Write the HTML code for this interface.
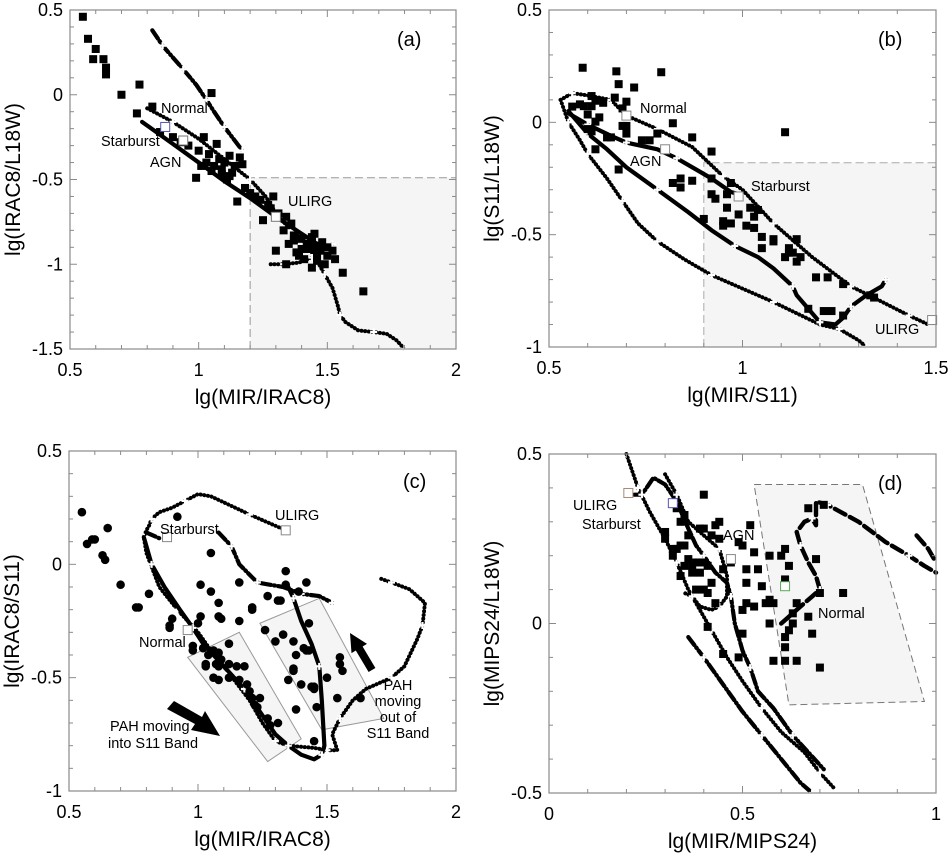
<!DOCTYPE html>
<html><head><meta charset="utf-8"><style>
html,body{margin:0;padding:0;background:#fff}
svg{display:block;font-family:"Liberation Sans",Arial,sans-serif}
</style></head><body>
<svg id="fig" width="949" height="853" viewBox="0 0 949 853" xmlns="http://www.w3.org/2000/svg"></svg>
<script>
// ===== Panel (a) data =====
const aSquaresX=[0.55,0.57,0.60,0.59,0.63,0.64,0.64,0.77,0.70,0.76,0.82,1.05,0.99,1.15,1.25,1.29,1.28,0.85,0.90,0.93,0.96,1.0,1.02,1.04,1.07,1.08,1.10,1.12,1.14,1.16,1.05,1.09,1.11,1.13,1.18,1.20,1.22,1.24,1.27,1.31,1.34,1.36,1.33,1.37,1.40,1.42,1.44,1.45,1.47,1.48,1.50,1.52,1.38,1.41,1.43,1.46,1.49,1.56,1.64,1.30,1.35,1.39,1.45,1.53,1.34,1.44,1.46,1.06,1.09,1.12,1.01,1.03,1.17,1.42,1.44,1.47,1.40,1.37,1.46,1.50];
const aSquaresY=[0.46,0.33,0.27,0.21,0.21,0.16,0.12,0.06,0.00,-0.11,-0.07,0.01,-0.49,-0.63,-0.74,-0.60,-0.67,-0.22,-0.25,-0.28,-0.30,-0.33,-0.25,-0.35,-0.29,-0.38,-0.40,-0.36,-0.42,-0.37,-0.45,-0.47,-0.50,-0.46,-0.55,-0.58,-0.60,-0.62,-0.65,-0.70,-0.72,-0.76,-0.80,-0.83,-0.85,-0.88,-0.84,-0.90,-0.92,-0.87,-0.95,-0.92,-0.93,-0.97,-0.90,-0.98,-1.00,-1.05,-1.16,-0.92,-0.88,-0.95,-0.82,-0.97,-1.00,-1.02,-0.93,-0.42,-0.44,-0.48,-0.42,-0.40,-0.41,-0.91,-0.86,-0.89,-0.91,-0.86,-0.96,-0.90];
const aNormalX=[0.82,0.86,0.90,0.94,0.99,1.03,1.06,1.10,1.14,1.17];
const aNormalY=[0.38,0.29,0.22,0.15,0.06,-0.03,-0.10,-0.19,-0.27,-0.33];
const aUlirgX=[0.80,0.90,1.00,1.10,1.20,1.26,1.30,1.36,1.42,1.46,1.49,1.52,1.54,1.55,1.57,1.62,1.68,1.73,1.77,1.80];
const aUlirgY=[-0.08,-0.16,-0.26,-0.38,-0.50,-0.60,-0.70,-0.80,-0.88,-0.98,-1.06,-1.14,-1.24,-1.30,-1.34,-1.39,-1.40,-1.41,-1.45,-1.50];
const aBranchX=[1.28,1.33,1.39,1.44,1.48,1.52];
const aBranchY=[-1.00,-1.00,-0.99,-0.96,-0.92,-0.88];
const aAgnX=[0.78,0.90,1.00,1.10,1.20,1.30,1.40,1.48];
const aAgnY=[-0.16,-0.29,-0.40,-0.51,-0.61,-0.72,-0.82,-0.90];

// ===== Panel (b) data =====
const bSquaresX=[0.587,0.674,0.79,0.68,0.72,0.61,0.62,0.64,0.67,0.70,0.56,0.58,0.59,0.61,0.69,0.60,0.63,0.62,0.69,0.70,0.82,1.11,0.60,0.61,0.65,0.66,0.70,0.74,0.76,0.78,0.87,0.62,0.92,0.68,0.82,0.84,0.84,0.87,0.92,0.92,0.93,0.97,0.96,0.96,0.99,0.95,0.95,0.97,0.90,1.02,1.04,1.03,1.01,1.03,1.05,1.05,1.08,1.08,1.14,1.12,1.12,1.13,1.11,1.15,1.14,1.19,1.22,1.26,1.17,1.21,1.23,1.26,1.33,1.34];
const bSquaresY=[0.243,0.227,0.223,0.17,0.155,0.117,0.096,0.087,0.11,0.092,0.07,0.08,0.072,0.072,0.062,0.035,0.022,0.003,-0.016,-0.016,-0.004,-0.044,-0.03,-0.04,-0.067,-0.067,-0.05,-0.08,-0.08,-0.05,-0.067,-0.12,-0.13,-0.21,-0.27,-0.29,-0.25,-0.26,-0.25,-0.32,-0.34,-0.27,-0.32,-0.38,-0.41,-0.44,-0.46,-0.45,-0.43,-0.38,-0.39,-0.42,-0.46,-0.47,-0.51,-0.56,-0.52,-0.53,-0.52,-0.58,-0.56,-0.58,-0.60,-0.60,-0.62,-0.69,-0.69,-0.72,-0.83,-0.84,-0.84,-0.86,-0.77,-0.78];
const bUpperX=[0.53,0.56,0.60,0.66,0.70,0.78,0.87,0.95,1.00,1.08,1.18,1.28,1.35,1.43,1.48];
const bUpperY=[0.10,0.13,0.12,0.10,0.03,-0.03,-0.11,-0.24,-0.30,-0.45,-0.60,-0.73,-0.79,-0.86,-0.90];
const bLowerX=[0.53,0.55,0.58,0.60,0.65,0.69,0.73,0.78,0.85,0.92,1.00,1.08,1.20,1.25,1.30,1.32];
const bLowerY=[0.10,0.00,-0.08,-0.14,-0.25,-0.35,-0.45,-0.53,-0.61,-0.68,-0.74,-0.80,-0.90,-0.92,-0.97,-1.00];
const bSolidX=[0.55,0.60,0.65,0.70,0.78,0.86,0.92,0.98,1.04,1.08,1.13,1.14,1.17,1.20,1.24,1.26,1.28,1.32,1.36,1.37];
const bSolidY=[0.05,-0.05,-0.12,-0.20,-0.30,-0.40,-0.48,-0.55,-0.60,-0.65,-0.73,-0.77,-0.83,-0.89,-0.90,-0.87,-0.82,-0.77,-0.73,-0.70];
const bAgnX=[0.55,0.60,0.66,0.70,0.78,0.83,0.88,0.92,0.97,0.99];
const bAgnY=[0.04,-0.01,-0.06,-0.09,-0.12,-0.16,-0.21,-0.25,-0.31,-0.32];

// ===== Panel (c) data =====
const cCirclesX=[0.55,0.57,0.59,0.60,0.65,0.63,0.64,0.70,0.76,0.77,0.81,0.92,0.90,0.89,0.89,1.05,1.01,1.05,1.08,1.01,1.00,1.08,1.09,1.16,1.16,1.21,1.21,1.27,1.32,1.34,1.34,1.42,1.39,0.98,1.02,0.98,1.04,1.06,1.08,1.09,1.12,1.03,1.03,1.07,1.08,1.12,1.15,1.18,1.06,1.08,1.12,1.16,1.19,1.20,1.21,1.24,1.22,1.23,1.28,1.31,1.27,1.26,1.30,1.33,1.37,1.38,1.37,1.37,1.35,1.40,1.38,1.41,1.42,1.43,1.43,1.44,1.45,1.45,1.46,1.50,1.54,1.55,1.55,1.56,1.63,1.45,1.31];
const cCirclesY=[0.23,0.09,0.11,0.11,0.16,0.04,0.02,-0.09,-0.19,-0.19,-0.13,0.21,-0.24,-0.27,-0.28,0.05,-0.09,-0.12,-0.17,-0.23,-0.26,-0.23,-0.24,-0.08,-0.25,-0.19,-0.20,-0.14,-0.16,-0.09,-0.03,-0.08,-0.12,-0.36,-0.37,-0.38,-0.40,-0.38,-0.39,-0.42,-0.35,-0.44,-0.45,-0.44,-0.45,-0.44,-0.45,-0.45,-0.50,-0.51,-0.50,-0.51,-0.53,-0.56,-0.59,-0.59,-0.62,-0.63,-0.71,-0.70,-0.68,-0.29,-0.34,-0.31,-0.34,-0.40,-0.46,-0.47,-0.51,-0.53,-0.64,-0.37,-0.38,-0.38,-0.26,-0.54,-0.54,-0.55,-0.63,-0.50,-0.59,-0.41,-0.44,-0.47,-0.59,-0.78,-0.16];
const cDottedX=[1.34,1.20,1.05,1.00,0.95,0.90,0.85,0.82,0.81,0.80,0.79,0.80,0.85,0.92,1.00,1.05,1.12,1.20,1.25,1.30,1.35,1.45,1.50,1.54,1.52,1.55,1.60,1.65,1.75,1.80,1.85,1.87,1.88,1.82,1.75,1.70];
const cDottedY=[0.15,0.22,0.30,0.31,0.28,0.25,0.23,0.20,0.17,0.15,0.12,0.05,-0.10,-0.20,-0.30,-0.38,-0.48,-0.60,-0.70,-0.78,-0.80,-0.81,-0.82,-0.82,-0.75,-0.68,-0.60,-0.55,-0.50,-0.45,-0.33,-0.27,-0.17,-0.11,-0.08,-0.06];
const cSolidX=[0.79,0.82,0.87,0.93,0.98,1.02,1.10,1.18,1.24,1.30,1.35,1.40,1.45,1.48,1.49,1.48,1.47,1.44,1.40,1.37,1.35];
const cSolidY=[0.12,0.00,-0.10,-0.20,-0.28,-0.35,-0.45,-0.55,-0.65,-0.75,-0.80,-0.84,-0.86,-0.84,-0.80,-0.60,-0.45,-0.35,-0.25,-0.15,-0.10];
const cDashX=[1.08,1.13,1.16,1.23,1.33,1.40,1.47,1.52];
const cDashY=[0.14,0.08,0.00,-0.08,-0.10,-0.13,-0.14,-0.17];
const cStarX=[0.80,0.84,0.86];
const cStarY=[0.14,0.12,0.11];

// ===== Panel (d) data =====
const dSquaresX=[0.40,0.33,0.35,0.34,0.44,0.43,0.52,0.30,0.36,0.39,0.40,0.42,0.44,0.30,0.32,0.33,0.34,0.35,0.32,0.36,0.38,0.40,0.41,0.37,0.35,0.34,0.37,0.39,0.45,0.47,0.49,0.50,0.53,0.51,0.54,0.57,0.60,0.61,0.62,0.61,0.51,0.55,0.38,0.40,0.42,0.41,0.43,0.51,0.50,0.53,0.57,0.56,0.58,0.64,0.63,0.67,0.63,0.57,0.62,0.68,0.61,0.61,0.41,0.50,0.45,0.49,0.58,0.61,0.64,0.70,0.70,0.76,0.69,0.67,0.71];
const dSquaresY=[0.38,0.34,0.32,0.30,0.30,0.29,0.29,0.27,0.26,0.28,0.28,0.26,0.25,0.25,0.22,0.22,0.23,0.23,0.20,0.19,0.18,0.18,0.17,0.17,0.17,0.14,0.15,0.15,0.16,0.18,0.24,0.23,0.21,0.16,0.16,0.20,0.20,0.22,0.17,0.13,0.12,0.11,0.10,0.10,0.12,0.09,0.06,0.06,0.04,0.05,0.07,0.06,0.06,0.06,0.03,0.02,0.00,0.00,-0.02,-0.03,-0.04,-0.07,-0.01,-0.03,-0.09,-0.10,-0.11,-0.11,-0.11,-0.13,0.09,0.09,0.19,0.34,0.35];
const dUlirgX=[0.20,0.23,0.26,0.30,0.33,0.36,0.39,0.42,0.46,0.50,0.55,0.60,0.66,0.70,0.74];
const dUlirgY=[0.50,0.40,0.33,0.25,0.18,0.10,0.04,-0.02,-0.10,-0.17,-0.25,-0.32,-0.38,-0.44,-0.49];
const dStarX=[0.22,0.24,0.27,0.30,0.33,0.36,0.38,0.40,0.43,0.46,0.47,0.48,0.50,0.52,0.54,0.58,0.63,0.67,0.71];
const dStarY=[0.38,0.38,0.43,0.41,0.36,0.28,0.23,0.20,0.15,0.12,0.08,0.00,-0.08,-0.13,-0.20,-0.25,-0.33,-0.38,-0.43];
const dAgnX=[0.30,0.33,0.36,0.40,0.44,0.46,0.46,0.44,0.42,0.39,0.37,0.35];
const dAgnY=[0.44,0.38,0.30,0.26,0.22,0.14,0.08,0.05,0.04,0.05,0.08,0.09];
const dLowX=[0.36,0.40,0.45,0.50,0.55,0.60,0.65,0.68];
const dLowY=[-0.04,-0.10,-0.18,-0.26,-0.33,-0.40,-0.47,-0.50];
const dNormalX=[0.60,0.63,0.65,0.68,0.70,0.69,0.67,0.65,0.64,0.66,0.68,0.69,0.69,0.72,0.80,0.87,0.93,0.97,1.00];
const dNormalY=[0.00,0.03,0.05,0.08,0.10,0.14,0.18,0.23,0.27,0.30,0.31,0.29,0.36,0.35,0.30,0.24,0.20,0.17,0.15];
const dNormal2X=[0.95,0.98,1.00];
const dNormal2Y=[0.26,0.22,0.18];

const NS="http://www.w3.org/2000/svg";
const svg=document.getElementById('fig');
function mk(tag,attrs,parent){const e=document.createElementNS(NS,tag);for(const k in attrs)e.setAttribute(k,attrs[k]);(parent||svg).appendChild(e);return e;}

function panel(name,L,R,T,B,x0,x1,y0,y1){
  const g=mk('g',{});
  
  
  return {g,sx:v=>L+(v-x0)/(x1-x0)*(R-L),sy:v=>B-(v-y0)/(y1-y0)*(B-T),L,R,T,B,x0,x1,y0,y1};
}
function axes(p,xt,yt,xMinor,yMinor,xTitle,yTitle,tagText,tagX,tagY){
  const ag=mk('g',{},p.g);
  
  
  mk('rect',{x:p.L,y:p.T,width:p.R-p.L,height:p.B-p.T,fill:'none',stroke:'#8a8a8a','stroke-width':1.2},ag);
  for(let v=p.x0;v<=p.x1+1e-9;v+=xMinor){const X=p.sx(v);const maj=xt.some(t=>Math.abs(t-v)<1e-6);const l=maj?7:4;
    mk('line',{x1:X,x2:X,y1:p.B,y2:p.B-l,stroke:'#8a8a8a'},ag);mk('line',{x1:X,x2:X,y1:p.T,y2:p.T+l,stroke:'#8a8a8a'},ag);}
  for(let v=p.y0;v<=p.y1+1e-9;v+=yMinor){const Y=p.sy(v);const maj=yt.some(t=>Math.abs(t-v)<1e-6);const l=maj?7:4;
    mk('line',{x1:p.L,x2:p.L+l,y1:Y,y2:Y,stroke:'#8a8a8a'},ag);mk('line',{x1:p.R,x2:p.R-l,y1:Y,y2:Y,stroke:'#8a8a8a'},ag);}
  xt.forEach(v=>{const t=mk('text',{x:p.sx(v),y:p.B+27,'text-anchor':'middle','font-size':18},ag);t.textContent=String(v);
    
    });
  yt.forEach(v=>{const t=mk('text',{x:p.L-7,y:p.sy(v)+6,'text-anchor':'end','font-size':18},ag);t.textContent=String(v);
    
    });
  const xtl=mk('text',{x:(p.L+p.R)/2,y:p.B+55,'text-anchor':'middle','font-size':21},ag);xtl.textContent=xTitle;
  
  
  const cy=(p.T+p.B)/2,cx=p.L-50;
  const ytl=mk('text',{x:cx,y:cy,'text-anchor':'middle','font-size':21,transform:`rotate(-90 ${cx} ${cy})`},ag);ytl.textContent=yTitle;
  
  
  const tg=mk('text',{x:tagX,y:tagY,'font-size':20},ag);tg.textContent=tagText;
  
  
}
function shade(p,xs,ys,dashed){
  const pts=xs.map((x,i)=>p.sx(x)+','+p.sy(ys[i])).join(' ');
  const e=mk('polygon',{points:pts,fill:'#f5f5f5',stroke:dashed?'#777':'none','stroke-dasharray':dashed?'7 4':'none','stroke-width':1},p.g);
  
  
  return e;
}
const STY={dot:{w:4,d:'0.1 3.6'},dash:{w:4.2,d:'10 3 1 3'},solid:{w:4.2,d:'none'},dash2:{w:4.4,d:'12 5'}};
function curve(p,xs,ys,style,name,cross){
  const d=xs.map((x,i)=>(i?'L':'M')+p.sx(x).toFixed(1)+' '+p.sy(ys[i]).toFixed(1)).join(' ');
  const s=STY[style];
  const e=mk('path',{d:d,fill:'none',stroke:'#000','stroke-width':s.w,'stroke-dasharray':s.d,'stroke-linecap':'round','stroke-linejoin':'round'},p.g);
  
  
  if(cross){for(let i=1;i<xs.length;i+=cross){plus(p,xs[i],ys[i]);}}
}
function plus(p,x,y){
  const X=p.sx(x),Y=p.sy(y);
  const e=mk('path',{d:`M${X-3.5} ${Y}H${X+3.5}M${X} ${Y-3.5}V${Y+3.5}`,stroke:'#fff','stroke-width':2.2},p.g);
  
  
}
function squares(p,xs,ys,name){
  xs.forEach((x,i)=>{const e=mk('rect',{x:p.sx(x)-4,y:p.sy(ys[i])-4,width:8,height:8,fill:'#000'},p.g);
    
    });
}
function circles(p,xs,ys,name){
  xs.forEach((x,i)=>{const e=mk('circle',{cx:p.sx(x),cy:p.sy(ys[i]),r:4.3,fill:'#000'},p.g);
    
    });
}
function openSq(p,x,y,col){
  const e=mk('rect',{x:p.sx(x)-4.5,y:p.sy(y)-4.5,width:9,height:9,fill:'#fff',stroke:col||'#888','stroke-width':1},p.g);
  
  
}
function label(p,x,y,txt,name,size){
  const e=mk('text',{x:x,y:y,'font-size':size||14.5},p.g);e.textContent=txt;
  
  
  return e;
}

// ---- Panel a ----
const pa=panel('panel-a',70,456,10,349,0.5,2,-1.5,0.5);
shade(pa,[1.2,2,2,1.2],[-0.49,-0.49,-1.5,-1.5],false);
mk('path',{d:`M${pa.sx(1.2)} ${pa.sy(-1.5)}V${pa.sy(-0.49)}H${pa.R}`,fill:'none',stroke:'#999','stroke-dasharray':'8 4'},pa.g);
curve(pa,aNormalX,aNormalY,'dash','normal-curve',2);
curve(pa,aUlirgX,aUlirgY,'dot','ulirg-curve',3);
curve(pa,aBranchX,aBranchY,'dot','ulirg-branch',2);
curve(pa,aAgnX,aAgnY,'solid','agn-curve',0);
squares(pa,aSquaresX,aSquaresY,'galaxy-point');
openSq(pa,0.87,-0.19,'#55a');openSq(pa,0.94,-0.27,'#777');openSq(pa,1.30,-0.72,'#777');
axes(pa,[0.5,1,1.5,2],[-1.5,-1,-0.5,0,0.5],0.1,0.1,'lg(MIR/IRAC8)','lg(IRAC8/L18W)','(a)',397,46);
label(pa,161,113,'Normal','normal-label');
label(pa,101,146,'Starburst','starburst-label');
label(pa,150,167,'AGN','agn-label');
label(pa,288,206,'ULIRG','ulirg-label');

// ---- Panel b ----
const pb=panel('panel-b',549,936,10,347,0.5,1.5,-1,0.5);
shade(pb,[0.9,1.5,1.5,0.9],[-0.18,-0.18,-1,-1],false);
mk('path',{d:`M${pb.sx(0.9)} ${pb.sy(-1)}V${pb.sy(-0.18)}H${pb.R}`,fill:'none',stroke:'#aaa','stroke-dasharray':'8 4'},pb.g);
curve(pb,bUpperX,bUpperY,'dot','normal-curve',2);
curve(pb,bLowerX,bLowerY,'dot','ulirg-curve',2);
curve(pb,bSolidX,bSolidY,'solid','starburst-curve',3);
curve(pb,bAgnX,bAgnY,'solid','agn-curve',2);
squares(pb,bSquaresX,bSquaresY,'galaxy-point');
openSq(pb,0.70,0.03);openSq(pb,0.80,-0.12);openSq(pb,0.99,-0.33);openSq(pb,1.49,-0.88);
axes(pb,[0.5,1,1.5],[-1,-0.5,0,0.5],0.1,0.1,'lg(MIR/S11)','lg(S11/L18W)','(b)',878,46);
label(pb,640,113,'Normal','normal-label');
label(pb,630,166,'AGN','agn-label');
label(pb,751,191,'Starburst','starburst-label');
label(pb,875,334,'ULIRG','ulirg-label');

// ---- Panel c ----
const pc=panel('panel-c',69,456,451,791,0.5,2,-1,0.5);
shade(pc,[0.96,1.16,1.40,1.27],[-0.41,-0.30,-0.77,-0.87],false).setAttribute('stroke','#999');
shade(pc,[1.24,1.47,1.72,1.48],[-0.26,-0.15,-0.68,-0.73],false).setAttribute('stroke','#999');
curve(pc,cDottedX,cDottedY,'dot','ulirg-curve',3);
curve(pc,cSolidX,cSolidY,'solid','normal-curve',3);
curve(pc,cDashX,cDashY,'dash','agn-curve',2);
curve(pc,cStarX,cStarY,'dash','starburst-curve',0);
circles(pc,cCirclesX,cCirclesY,'galaxy-point');
openSq(pc,0.88,0.12);openSq(pc,1.34,0.15);openSq(pc,0.96,-0.29);
axes(pc,[0.5,1,1.5,2],[-1,-0.5,0,0.5],0.1,0.1,'lg(MIR/IRAC8)','lg(IRAC8/S11)','(c)',403,488);
label(pc,275,520,'ULIRG','ulirg-label');
label(pc,160,534,'Starburst','starburst-label');
label(pc,139,647,'Normal','normal-label');
label(pc,110,731,'PAH moving','pah-into-label');
label(pc,108,748,'into S11 Band','pah-into-label');
label(pc,398,690,'PAH','pah-out-label').setAttribute('text-anchor','middle');
label(pc,398,706,'moving','pah-out-label').setAttribute('text-anchor','middle');
label(pc,398,722,'out of','pah-out-label').setAttribute('text-anchor','middle');
label(pc,398,738,'S11 Band','pah-out-label').setAttribute('text-anchor','middle');
const ar1=mk('polygon',{points:'174,701 202,717 205,711 220,736 191,730 195,724 167,709',fill:'#000'},pc.g);


const ar2=mk('polygon',{points:'368.6,672 355.8,650.5 351.5,653.1 350,633 367,643.9 362.6,646.5 375.4,668',fill:'#000'},pc.g);



// ---- Panel d ----
const pd=panel('panel-d',549,936,454,793,0,1,-0.5,0.5);
shade(pd,[0.53,0.81,0.97,0.62],[0.41,0.41,-0.23,-0.24],true);
curve(pd,dUlirgX,dUlirgY,'dot','ulirg-curve',3);
curve(pd,dStarX,dStarY,'dash','starburst-curve',3);
curve(pd,dAgnX,dAgnY,'dot','agn-curve',3);
curve(pd,dLowX,dLowY,'dash','lower-curve',3);
curve(pd,dNormalX,dNormalY,'dash2','normal-curve',3);
curve(pd,dNormal2X,dNormal2Y,'dash2','normal-curve-2',0);
squares(pd,dSquaresX,dSquaresY,'galaxy-point');
openSq(pd,0.205,0.385,'#a87');openSq(pd,0.32,0.355,'#55a');openSq(pd,0.47,0.19);openSq(pd,0.61,0.11,'#5a5');
axes(pd,[0,0.5,1],[-0.5,0,0.5],0.1,0.1,'lg(MIR/MIPS24)','lg(MIPS24/L18W)','(d)',878,490);
label(pd,573,510,'ULIRG','ulirg-label');
label(pd,582,529,'Starburst','starburst-label');
label(pd,723,540,'AGN','agn-label');
label(pd,818,618,'Normal','normal-label');
</script>
</body></html>
